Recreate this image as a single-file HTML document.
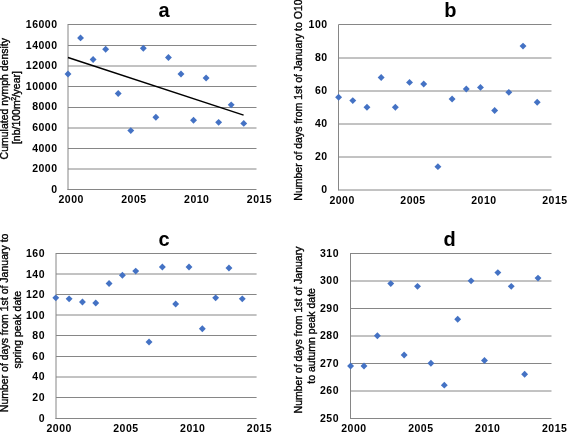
<!DOCTYPE html>
<html><head><meta charset="utf-8"><style>
html,body{margin:0;padding:0;background:#fff;}
body{width:567px;height:432px;overflow:hidden;position:relative;font-family:"Liberation Sans",sans-serif;}
svg{position:absolute;left:0;top:0;display:block;will-change:transform;}
</style></head><body>
<svg width="567" height="432" viewBox="0 0 567 432">
<rect width="567" height="432" fill="#fff"/>
<line x1="68" y1="24.5" x2="256.5" y2="24.5" stroke="#868686" stroke-width="1"/>
<line x1="68" y1="45.5" x2="256.5" y2="45.5" stroke="#868686" stroke-width="1"/>
<line x1="68" y1="66" x2="256.5" y2="66" stroke="#868686" stroke-width="1"/>
<line x1="68" y1="86.5" x2="256.5" y2="86.5" stroke="#868686" stroke-width="1"/>
<line x1="68" y1="107.5" x2="256.5" y2="107.5" stroke="#868686" stroke-width="1"/>
<line x1="68" y1="128" x2="256.5" y2="128" stroke="#868686" stroke-width="1"/>
<line x1="68" y1="148.5" x2="256.5" y2="148.5" stroke="#868686" stroke-width="1"/>
<line x1="68" y1="169" x2="256.5" y2="169" stroke="#868686" stroke-width="1"/>
<line x1="68" y1="24" x2="68" y2="190" stroke="#868686" stroke-width="1"/>
<line x1="67.5" y1="189.5" x2="256.5" y2="189.5" stroke="#868686" stroke-width="1"/>
<text x="57.5" y="27.90" text-anchor="end" font-family="Liberation Sans" font-weight="bold" font-size="10.5" letter-spacing="0.5">16000</text>
<text x="57.5" y="48.50" text-anchor="end" font-family="Liberation Sans" font-weight="bold" font-size="10.5" letter-spacing="0.5">14000</text>
<text x="57.5" y="69.10" text-anchor="end" font-family="Liberation Sans" font-weight="bold" font-size="10.5" letter-spacing="0.5">12000</text>
<text x="57.5" y="89.70" text-anchor="end" font-family="Liberation Sans" font-weight="bold" font-size="10.5" letter-spacing="0.5">10000</text>
<text x="57.5" y="110.30" text-anchor="end" font-family="Liberation Sans" font-weight="bold" font-size="10.5" letter-spacing="0.5">8000</text>
<text x="57.5" y="130.90" text-anchor="end" font-family="Liberation Sans" font-weight="bold" font-size="10.5" letter-spacing="0.5">6000</text>
<text x="57.5" y="151.50" text-anchor="end" font-family="Liberation Sans" font-weight="bold" font-size="10.5" letter-spacing="0.5">4000</text>
<text x="57.5" y="172.10" text-anchor="end" font-family="Liberation Sans" font-weight="bold" font-size="10.5" letter-spacing="0.5">2000</text>
<text x="57.5" y="192.70" text-anchor="end" font-family="Liberation Sans" font-weight="bold" font-size="10.5" letter-spacing="0.5">0</text>
<text x="71.20" y="202.9" text-anchor="middle" font-family="Liberation Sans" font-weight="bold" font-size="10.5" letter-spacing="0.5">2000</text>
<text x="133.97" y="202.9" text-anchor="middle" font-family="Liberation Sans" font-weight="bold" font-size="10.5" letter-spacing="0.5">2005</text>
<text x="196.73" y="202.9" text-anchor="middle" font-family="Liberation Sans" font-weight="bold" font-size="10.5" letter-spacing="0.5">2010</text>
<text x="259.50" y="202.9" text-anchor="middle" font-family="Liberation Sans" font-weight="bold" font-size="10.5" letter-spacing="0.5">2015</text>
<text x="164" y="16.6" text-anchor="middle" font-family="Liberation Sans" font-weight="bold" font-size="20">a</text>
<path d="M68.00 70.49L71.45 73.94L68.00 77.39L64.55 73.94Z" fill="#4472c4"/>
<path d="M80.55 34.44L84.00 37.89L80.55 41.34L77.10 37.89Z" fill="#4472c4"/>
<path d="M93.11 56.07L96.56 59.52L93.11 62.97L89.66 59.52Z" fill="#4472c4"/>
<path d="M105.66 45.77L109.11 49.22L105.66 52.67L102.21 49.22Z" fill="#4472c4"/>
<path d="M118.21 90.06L121.66 93.51L118.21 96.96L114.76 93.51Z" fill="#4472c4"/>
<path d="M130.77 127.14L134.22 130.59L130.77 134.04L127.32 130.59Z" fill="#4472c4"/>
<path d="M143.32 44.74L146.77 48.19L143.32 51.64L139.87 48.19Z" fill="#4472c4"/>
<path d="M155.87 113.75L159.32 117.20L155.87 120.65L152.42 117.20Z" fill="#4472c4"/>
<path d="M168.43 54.01L171.88 57.46L168.43 60.91L164.98 57.46Z" fill="#4472c4"/>
<path d="M180.98 70.49L184.43 73.94L180.98 77.39L177.53 73.94Z" fill="#4472c4"/>
<path d="M193.53 116.84L196.98 120.29L193.53 123.74L190.08 120.29Z" fill="#4472c4"/>
<path d="M206.09 74.61L209.54 78.06L206.09 81.51L202.64 78.06Z" fill="#4472c4"/>
<path d="M218.64 118.90L222.09 122.35L218.64 125.80L215.19 122.35Z" fill="#4472c4"/>
<path d="M231.19 101.39L234.64 104.84L231.19 108.29L227.74 104.84Z" fill="#4472c4"/>
<path d="M243.75 119.93L247.20 123.38L243.75 126.83L240.30 123.38Z" fill="#4472c4"/>
<line x1="68" y1="57.5" x2="243.6" y2="115.1" stroke="#000" stroke-width="1.5"/>
<text transform="translate(8,98.70) rotate(-90)" text-anchor="middle" font-family="Liberation Sans" font-size="10.5" stroke="#000" stroke-width="0.35">Cumulated nymph density</text>
<text transform="translate(20,107.60) rotate(-90)" text-anchor="middle" font-family="Liberation Sans" font-size="10.5" stroke="#000" stroke-width="0.35">[nb/100m<tspan font-size="7" dy="-4.5" dx="-0.3">2</tspan><tspan dy="4.5" dx="-0.6">/year]</tspan></text>
<line x1="338.6" y1="24.5" x2="551.5" y2="24.5" stroke="#868686" stroke-width="1"/>
<line x1="338.6" y1="58" x2="551.5" y2="58" stroke="#868686" stroke-width="1"/>
<line x1="338.6" y1="91" x2="551.5" y2="91" stroke="#868686" stroke-width="1"/>
<line x1="338.6" y1="124" x2="551.5" y2="124" stroke="#868686" stroke-width="1"/>
<line x1="338.6" y1="157" x2="551.5" y2="157" stroke="#868686" stroke-width="1"/>
<line x1="338.6" y1="190" x2="551.5" y2="190" stroke="#868686" stroke-width="1"/>
<line x1="338.5" y1="24.5" x2="338.5" y2="190.5" stroke="#868686" stroke-width="1"/>
<text x="327.6" y="28.00" text-anchor="end" font-family="Liberation Sans" font-weight="bold" font-size="10.5" letter-spacing="0.5">100</text>
<text x="327.6" y="61.04" text-anchor="end" font-family="Liberation Sans" font-weight="bold" font-size="10.5" letter-spacing="0.5">80</text>
<text x="327.6" y="94.08" text-anchor="end" font-family="Liberation Sans" font-weight="bold" font-size="10.5" letter-spacing="0.5">60</text>
<text x="327.6" y="127.12" text-anchor="end" font-family="Liberation Sans" font-weight="bold" font-size="10.5" letter-spacing="0.5">40</text>
<text x="327.6" y="160.16" text-anchor="end" font-family="Liberation Sans" font-weight="bold" font-size="10.5" letter-spacing="0.5">20</text>
<text x="327.6" y="193.20" text-anchor="end" font-family="Liberation Sans" font-weight="bold" font-size="10.5" letter-spacing="0.5">0</text>
<text x="342.10" y="203.7" text-anchor="middle" font-family="Liberation Sans" font-weight="bold" font-size="10.5" letter-spacing="0.5">2000</text>
<text x="413.03" y="203.7" text-anchor="middle" font-family="Liberation Sans" font-weight="bold" font-size="10.5" letter-spacing="0.5">2005</text>
<text x="483.97" y="203.7" text-anchor="middle" font-family="Liberation Sans" font-weight="bold" font-size="10.5" letter-spacing="0.5">2010</text>
<text x="554.90" y="203.7" text-anchor="middle" font-family="Liberation Sans" font-weight="bold" font-size="10.5" letter-spacing="0.5">2015</text>
<text x="450.4" y="16.6" text-anchor="middle" font-family="Liberation Sans" font-weight="bold" font-size="20">b</text>
<path d="M338.60 93.84L342.05 97.29L338.60 100.74L335.15 97.29Z" fill="#4472c4"/>
<path d="M352.79 97.14L356.24 100.59L352.79 104.04L349.34 100.59Z" fill="#4472c4"/>
<path d="M366.97 103.75L370.42 107.20L366.97 110.65L363.52 107.20Z" fill="#4472c4"/>
<path d="M381.16 74.01L384.61 77.46L381.16 80.91L377.71 77.46Z" fill="#4472c4"/>
<path d="M395.35 103.75L398.80 107.20L395.35 110.65L391.90 107.20Z" fill="#4472c4"/>
<path d="M409.53 78.97L412.98 82.42L409.53 85.87L406.08 82.42Z" fill="#4472c4"/>
<path d="M423.72 80.62L427.17 84.07L423.72 87.52L420.27 84.07Z" fill="#4472c4"/>
<path d="M437.91 163.22L441.36 166.67L437.91 170.12L434.46 166.67Z" fill="#4472c4"/>
<path d="M452.09 95.49L455.54 98.94L452.09 102.39L448.64 98.94Z" fill="#4472c4"/>
<path d="M466.28 85.58L469.73 89.03L466.28 92.48L462.83 89.03Z" fill="#4472c4"/>
<path d="M480.47 83.93L483.92 87.38L480.47 90.83L477.02 87.38Z" fill="#4472c4"/>
<path d="M494.65 107.05L498.10 110.50L494.65 113.95L491.20 110.50Z" fill="#4472c4"/>
<path d="M508.84 88.88L512.29 92.33L508.84 95.78L505.39 92.33Z" fill="#4472c4"/>
<path d="M523.03 42.63L526.48 46.08L523.03 49.53L519.58 46.08Z" fill="#4472c4"/>
<path d="M537.21 98.79L540.66 102.24L537.21 105.69L533.76 102.24Z" fill="#4472c4"/>
<text transform="translate(302,200.7) rotate(-90)" text-anchor="start" font-family="Liberation Sans" font-size="10.5" stroke="#000" stroke-width="0.35">Number of days from 1st of January to O10 date</text>
<line x1="56" y1="253.5" x2="256.6" y2="253.5" stroke="#868686" stroke-width="1"/>
<line x1="56" y1="274" x2="256.6" y2="274" stroke="#868686" stroke-width="1"/>
<line x1="56" y1="294.5" x2="256.6" y2="294.5" stroke="#868686" stroke-width="1"/>
<line x1="56" y1="315" x2="256.6" y2="315" stroke="#868686" stroke-width="1"/>
<line x1="56" y1="335.5" x2="256.6" y2="335.5" stroke="#868686" stroke-width="1"/>
<line x1="56" y1="356.5" x2="256.6" y2="356.5" stroke="#868686" stroke-width="1"/>
<line x1="56" y1="377" x2="256.6" y2="377" stroke="#868686" stroke-width="1"/>
<line x1="56" y1="397.5" x2="256.6" y2="397.5" stroke="#868686" stroke-width="1"/>
<line x1="56" y1="253" x2="56" y2="419" stroke="#868686" stroke-width="1"/>
<line x1="55.5" y1="418.5" x2="256.6" y2="418.5" stroke="#868686" stroke-width="1"/>
<text x="45" y="257.00" text-anchor="end" font-family="Liberation Sans" font-weight="bold" font-size="10.5" letter-spacing="0.5">160</text>
<text x="45" y="277.57" text-anchor="end" font-family="Liberation Sans" font-weight="bold" font-size="10.5" letter-spacing="0.5">140</text>
<text x="45" y="298.15" text-anchor="end" font-family="Liberation Sans" font-weight="bold" font-size="10.5" letter-spacing="0.5">120</text>
<text x="45" y="318.72" text-anchor="end" font-family="Liberation Sans" font-weight="bold" font-size="10.5" letter-spacing="0.5">100</text>
<text x="45" y="339.30" text-anchor="end" font-family="Liberation Sans" font-weight="bold" font-size="10.5" letter-spacing="0.5">80</text>
<text x="45" y="359.87" text-anchor="end" font-family="Liberation Sans" font-weight="bold" font-size="10.5" letter-spacing="0.5">60</text>
<text x="45" y="380.45" text-anchor="end" font-family="Liberation Sans" font-weight="bold" font-size="10.5" letter-spacing="0.5">40</text>
<text x="45" y="401.02" text-anchor="end" font-family="Liberation Sans" font-weight="bold" font-size="10.5" letter-spacing="0.5">20</text>
<text x="45" y="421.60" text-anchor="end" font-family="Liberation Sans" font-weight="bold" font-size="10.5" letter-spacing="0.5">0</text>
<text x="59.20" y="431.5" text-anchor="middle" font-family="Liberation Sans" font-weight="bold" font-size="10.5" letter-spacing="0.5">2000</text>
<text x="125.97" y="431.5" text-anchor="middle" font-family="Liberation Sans" font-weight="bold" font-size="10.5" letter-spacing="0.5">2005</text>
<text x="192.73" y="431.5" text-anchor="middle" font-family="Liberation Sans" font-weight="bold" font-size="10.5" letter-spacing="0.5">2010</text>
<text x="259.50" y="431.5" text-anchor="middle" font-family="Liberation Sans" font-weight="bold" font-size="10.5" letter-spacing="0.5">2015</text>
<text x="164" y="245.8" text-anchor="middle" font-family="Liberation Sans" font-weight="bold" font-size="20">c</text>
<path d="M55.80 294.39L59.25 297.84L55.80 301.29L52.35 297.84Z" fill="#4472c4"/>
<path d="M69.12 295.42L72.57 298.87L69.12 302.31L65.67 298.87Z" fill="#4472c4"/>
<path d="M82.44 298.50L85.89 301.95L82.44 305.40L78.99 301.95Z" fill="#4472c4"/>
<path d="M95.76 299.53L99.21 302.98L95.76 306.43L92.31 302.98Z" fill="#4472c4"/>
<path d="M109.08 279.98L112.53 283.43L109.08 286.88L105.63 283.43Z" fill="#4472c4"/>
<path d="M122.40 271.75L125.85 275.20L122.40 278.65L118.95 275.20Z" fill="#4472c4"/>
<path d="M135.72 267.64L139.17 271.09L135.72 274.54L132.27 271.09Z" fill="#4472c4"/>
<path d="M149.04 338.62L152.49 342.07L149.04 345.52L145.59 342.07Z" fill="#4472c4"/>
<path d="M162.36 263.52L165.81 266.97L162.36 270.42L158.91 266.97Z" fill="#4472c4"/>
<path d="M175.68 300.56L179.13 304.01L175.68 307.46L172.23 304.01Z" fill="#4472c4"/>
<path d="M189.00 263.52L192.45 266.97L189.00 270.42L185.55 266.97Z" fill="#4472c4"/>
<path d="M202.32 325.25L205.77 328.70L202.32 332.15L198.87 328.70Z" fill="#4472c4"/>
<path d="M215.64 294.39L219.09 297.84L215.64 301.29L212.19 297.84Z" fill="#4472c4"/>
<path d="M228.96 264.55L232.41 268.00L228.96 271.45L225.51 268.00Z" fill="#4472c4"/>
<path d="M242.28 295.42L245.73 298.87L242.28 302.31L238.83 298.87Z" fill="#4472c4"/>
<text transform="translate(8,322.90) rotate(-90)" text-anchor="middle" font-family="Liberation Sans" font-size="10.5" stroke="#000" stroke-width="0.35">Number of days from 1st of January to</text>
<text transform="translate(20.5,329.80) rotate(-90)" text-anchor="middle" font-family="Liberation Sans" font-size="10.5" stroke="#000" stroke-width="0.35">spring peak date</text>
<line x1="350.6" y1="253.5" x2="551.5" y2="253.5" stroke="#868686" stroke-width="1"/>
<line x1="350.6" y1="281" x2="551.5" y2="281" stroke="#868686" stroke-width="1"/>
<line x1="350.6" y1="308.5" x2="551.5" y2="308.5" stroke="#868686" stroke-width="1"/>
<line x1="350.6" y1="336" x2="551.5" y2="336" stroke="#868686" stroke-width="1"/>
<line x1="350.6" y1="363.5" x2="551.5" y2="363.5" stroke="#868686" stroke-width="1"/>
<line x1="350.6" y1="391" x2="551.5" y2="391" stroke="#868686" stroke-width="1"/>
<line x1="350.5" y1="253" x2="350.5" y2="419" stroke="#868686" stroke-width="1"/>
<line x1="350" y1="418.5" x2="551.5" y2="418.5" stroke="#868686" stroke-width="1"/>
<text x="339" y="256.80" text-anchor="end" font-family="Liberation Sans" font-weight="bold" font-size="10.5" letter-spacing="0.5">310</text>
<text x="339" y="284.25" text-anchor="end" font-family="Liberation Sans" font-weight="bold" font-size="10.5" letter-spacing="0.5">300</text>
<text x="339" y="311.70" text-anchor="end" font-family="Liberation Sans" font-weight="bold" font-size="10.5" letter-spacing="0.5">290</text>
<text x="339" y="339.15" text-anchor="end" font-family="Liberation Sans" font-weight="bold" font-size="10.5" letter-spacing="0.5">280</text>
<text x="339" y="366.60" text-anchor="end" font-family="Liberation Sans" font-weight="bold" font-size="10.5" letter-spacing="0.5">270</text>
<text x="339" y="394.05" text-anchor="end" font-family="Liberation Sans" font-weight="bold" font-size="10.5" letter-spacing="0.5">260</text>
<text x="339" y="421.50" text-anchor="end" font-family="Liberation Sans" font-weight="bold" font-size="10.5" letter-spacing="0.5">250</text>
<text x="353.90" y="431.5" text-anchor="middle" font-family="Liberation Sans" font-weight="bold" font-size="10.5" letter-spacing="0.5">2000</text>
<text x="420.83" y="431.5" text-anchor="middle" font-family="Liberation Sans" font-weight="bold" font-size="10.5" letter-spacing="0.5">2005</text>
<text x="487.77" y="431.5" text-anchor="middle" font-family="Liberation Sans" font-weight="bold" font-size="10.5" letter-spacing="0.5">2010</text>
<text x="554.70" y="431.5" text-anchor="middle" font-family="Liberation Sans" font-weight="bold" font-size="10.5" letter-spacing="0.5">2015</text>
<text x="449.6" y="245.8" text-anchor="middle" font-family="Liberation Sans" font-weight="bold" font-size="20">d</text>
<path d="M350.60 362.50L354.05 365.95L350.60 369.40L347.15 365.95Z" fill="#4472c4"/>
<path d="M363.99 362.50L367.44 365.95L363.99 369.40L360.54 365.95Z" fill="#4472c4"/>
<path d="M377.37 332.30L380.82 335.75L377.37 339.20L373.92 335.75Z" fill="#4472c4"/>
<path d="M390.76 280.15L394.21 283.60L390.76 287.05L387.31 283.60Z" fill="#4472c4"/>
<path d="M404.15 351.52L407.60 354.97L404.15 358.42L400.70 354.97Z" fill="#4472c4"/>
<path d="M417.53 282.89L420.98 286.34L417.53 289.79L414.08 286.34Z" fill="#4472c4"/>
<path d="M430.92 359.75L434.37 363.20L430.92 366.65L427.47 363.20Z" fill="#4472c4"/>
<path d="M444.31 381.71L447.76 385.16L444.31 388.61L440.86 385.16Z" fill="#4472c4"/>
<path d="M457.69 315.83L461.14 319.28L457.69 322.73L454.24 319.28Z" fill="#4472c4"/>
<path d="M471.08 277.40L474.53 280.85L471.08 284.30L467.63 280.85Z" fill="#4472c4"/>
<path d="M484.47 357.01L487.92 360.46L484.47 363.91L481.02 360.46Z" fill="#4472c4"/>
<path d="M497.85 269.17L501.30 272.62L497.85 276.06L494.40 272.62Z" fill="#4472c4"/>
<path d="M511.24 282.89L514.69 286.34L511.24 289.79L507.79 286.34Z" fill="#4472c4"/>
<path d="M524.63 370.73L528.08 374.18L524.63 377.63L521.18 374.18Z" fill="#4472c4"/>
<path d="M538.01 274.66L541.46 278.11L538.01 281.56L534.56 278.11Z" fill="#4472c4"/>
<text transform="translate(302,330.00) rotate(-90)" text-anchor="middle" font-family="Liberation Sans" font-size="10.5" stroke="#000" stroke-width="0.35">Number of days from 1st of January</text>
<text transform="translate(314.5,335.90) rotate(-90)" text-anchor="middle" font-family="Liberation Sans" font-size="10.5" stroke="#000" stroke-width="0.35">to autumn peak date</text>
</svg>
</body></html>
